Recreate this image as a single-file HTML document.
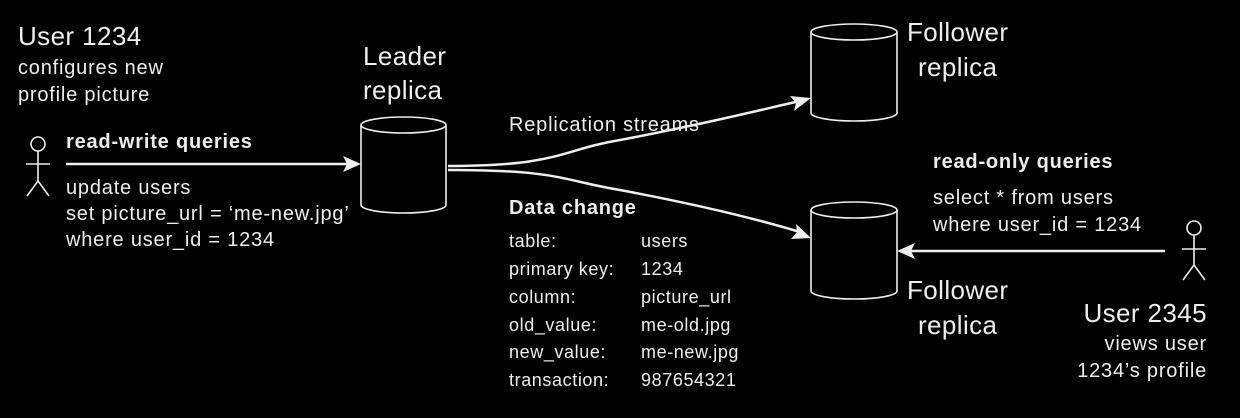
<!DOCTYPE html>
<html><head><style>
body{margin:0;background:#000;}
svg text{font-family:"Liberation Sans",sans-serif;fill:#eee;}
.b{font-size:20px;letter-spacing:0.8px;}
.t{font-size:26px;letter-spacing:0.4px;}
.d{font-size:18px;letter-spacing:0.6px;}
</style></head><body>
<svg width="1240" height="413" viewBox="0 0 1240 413" xmlns="http://www.w3.org/2000/svg">
<g stroke="#eee" stroke-width="1.6" fill="none">
<path d="M361,125 v80 a42.5,8 0 0 0 85,0 v-80"/><ellipse cx="403.5" cy="125" rx="42.5" ry="8"/>
<path d="M811,32 v81 a43,8 0 0 0 86,0 v-81"/><ellipse cx="854" cy="32" rx="43" ry="8"/>
<path d="M811,210 v81 a43,8 0 0 0 86,0 v-81"/><ellipse cx="854" cy="210" rx="43" ry="8"/>
<circle cx="38" cy="144" r="7"/><path d="M38,151 v30 M26,164 h24 M27,196 l11,-15 l11,15"/>
<circle cx="1194" cy="228" r="7"/><path d="M1194,235 v30 M1182,249 h24 M1183,280 l11,-15 l11,15"/>
</g>
<g stroke="#eee" stroke-width="2.5" fill="none">
<path d="M66,164 H350"/>
<path d="M448,166 C560,166 560,150 620,140 C700,125 760,110 800,101"/>
<path d="M448,170 C560,170 560,180 620,190 C700,205 760,220 800,232"/>
<path d="M1165,251 H910"/>
</g>
<g fill="#eee">
<path d="M361,164 L343,156 L347,164 L343,172 Z"/>
<path d="M811,98 L790,96 L796,103 L794,111 Z"/>
<path d="M811,238 L796,224 L797,232 L791,239 Z"/>
<path d="M897,251 L915,243 L911,251 L915,259 Z"/>
</g>
<text x="18" y="45" class="t">User 1234</text>
<text x="18" y="74" class="b">configures new</text>
<text x="18" y="101" class="b">profile picture</text>
<text x="66" y="148" class="b" font-weight="bold" letter-spacing="0.3">read-write queries</text>
<text x="66" y="194" class="b">update users</text>
<text x="66" y="220" class="b">set picture_url = ‘me-new.jpg’</text>
<text x="66" y="246" class="b">where user_id = 1234</text>
<text x="363" y="65" class="t">Leader</text>
<text x="363" y="99" class="t">replica</text>
<text x="509" y="131" class="b">Replication streams</text>
<text x="509" y="214" class="b" font-weight="bold" letter-spacing="0.3">Data change</text>
<g class="d">
<text x="509" y="247">table:</text><text x="641" y="247">users</text>
<text x="509" y="275">primary key:</text><text x="641" y="275">1234</text>
<text x="509" y="303">column:</text><text x="641" y="303">picture_url</text>
<text x="509" y="331">old_value:</text><text x="641" y="331">me-old.jpg</text>
<text x="509" y="358">new_value:</text><text x="641" y="358">me-new.jpg</text>
<text x="509" y="386">transaction:</text><text x="641" y="386">987654321</text>
</g>
<text x="907" y="41" class="t">Follower</text>
<text x="918" y="76" class="t">replica</text>
<text x="907" y="299" class="t">Follower</text>
<text x="918" y="334" class="t">replica</text>
<text x="933" y="168" class="b" font-weight="bold" letter-spacing="0.3">read-only queries</text>
<text x="933" y="204" class="b">select * from users</text>
<text x="933" y="231" class="b">where user_id = 1234</text>
<text x="1207" y="322" class="t" text-anchor="end">User 2345</text>
<text x="1207" y="350" class="b" text-anchor="end">views user</text>
<text x="1207" y="377" class="b" text-anchor="end">1234’s profile</text>
</svg>
</body></html>
